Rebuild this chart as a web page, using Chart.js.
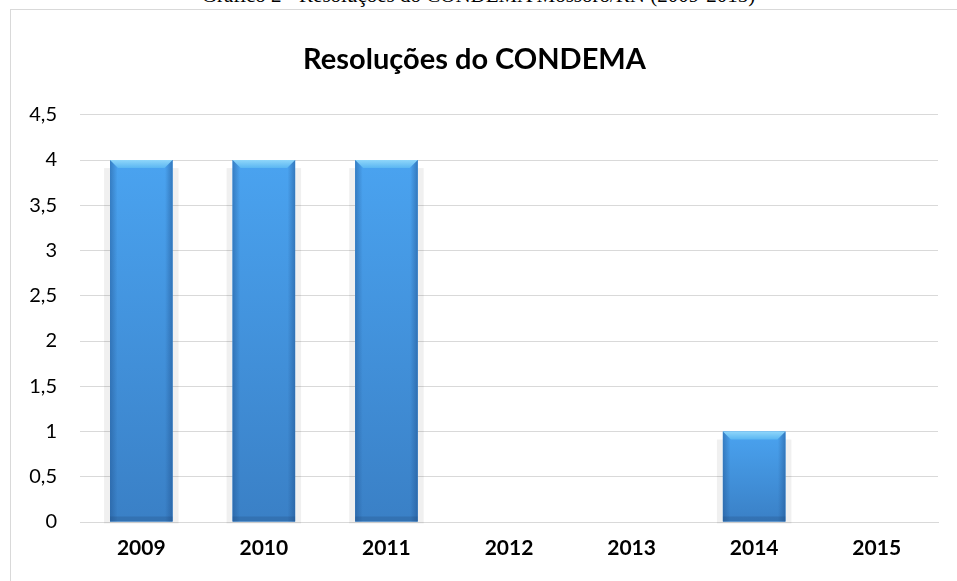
<!DOCTYPE html>
<html>
<head>
<meta charset="utf-8">
<script src="https://cdn.jsdelivr.net/npm/chart.js@4/dist/chart.umd.min.js"></script>
<style>
  html, body { margin: 0; padding: 0; background: #fff; overflow: hidden; }
  #wrap { position: relative; width: 957px; height: 581px; }
  #caption { position: absolute; left: 0; width: 957px; top: -17px; text-align: center;
    font-family: "Liberation Serif", serif; font-size: 21px; color: #000; white-space: nowrap; }
  #frame { position: absolute; left: 10px; top: 9px; width: 960px; height: 590px;
    border: 1px solid #d9d9d9; box-sizing: border-box; background: #fff; }
  canvas { position: absolute; left: 0; top: 0; }
</style>
</head>
<body>
<div id="wrap">
  <div id="caption">Gráfico 2 - Resoluções do CONDEMA Mossoró/RN (2009-2015)</div>
  <div id="frame"></div>
  <canvas id="c" width="957" height="581"></canvas>
</div>
<script>
const categories = ["2009", "2010", "2011", "2012", "2013", "2014", "2015"];
const values = [4, 4, 4, 0, 0, 1, 0];
const chartTitle = "Resoluções do CONDEMA";
const yMax = 4.5;
const yStep = 0.5;

const bevelPlugin = {
  id: 'bevel',
  beforeDatasetsDraw(chart) {
    const ctx = chart.ctx;
    const meta = chart.getDatasetMeta(0);
    ctx.save();
    meta.data.forEach((el) => {
      const p = el.getProps(['x', 'y', 'base', 'width'], true);
      const h = p.base - p.y;
      if (h < 1) return;
      const l = p.x - p.width / 2;
      ctx.fillStyle = 'rgba(0,0,0,0.06)';
      ctx.fillRect(l - 6, p.y + 8, p.width + 12, h - 6);
    });
    ctx.restore();
  },
  afterDatasetsDraw(chart) {
    const ctx = chart.ctx;
    const meta = chart.getDatasetMeta(0);
    ctx.save();
    meta.data.forEach((el) => {
      const p = el.getProps(['x', 'y', 'base', 'width'], true);
      const h = p.base - p.y;
      if (h < 1) return;
      const l = p.x - p.width / 2, r = p.x + p.width / 2;
      const g = ctx.createLinearGradient(0, p.y, 0, p.base);
      g.addColorStop(0, '#4aa3f0');
      g.addColorStop(1, '#3a80c6');
      ctx.fillStyle = g;
      ctx.fillRect(l, p.y, p.width, h);
      const hg = ctx.createLinearGradient(l, 0, r, 0);
      hg.addColorStop(0, 'rgba(30,80,140,0.45)');
      hg.addColorStop(0.12, 'rgba(30,80,140,0.0)');
      hg.addColorStop(0.88, 'rgba(30,80,140,0.0)');
      hg.addColorStop(1, 'rgba(30,80,140,0.5)');
      ctx.fillStyle = hg;
      ctx.fillRect(l, p.y, p.width, h);
      const b = 8;
      ctx.beginPath();
      ctx.moveTo(l, p.y);
      ctx.lineTo(r, p.y);
      ctx.lineTo(r - b, p.y + b);
      ctx.lineTo(l + b, p.y + b);
      ctx.closePath();
      const tg = ctx.createLinearGradient(0, p.y, 0, p.y + b);
      tg.addColorStop(0, '#8fd6fa');
      tg.addColorStop(1, '#5ab6f2');
      ctx.fillStyle = tg;
      ctx.fill();
      ctx.fillStyle = 'rgba(30,70,120,0.25)';
      ctx.fillRect(l, p.base - 5, p.width, 5);
    });
    ctx.restore();
  }
};

new Chart(document.getElementById('c'), {
  type: 'bar',
  data: {
    labels: categories,
    datasets: [{
      data: values,
      backgroundColor: '#4a9be6',
      borderWidth: 0,
      barPercentage: 0.51,
      categoryPercentage: 1.0
    }]
  },
  options: {
    responsive: false,
    animation: false,
    devicePixelRatio: 1,
    layout: { padding: { left: 11, right: 19, top: 14, bottom: 0 } },
    plugins: {
      legend: { display: false },
      tooltip: { enabled: false },
      title: {
        display: true,
        text: chartTitle,
        color: '#000',
        font: { family: 'Lato, "Open Sans", sans-serif', size: 29, weight: 'bold' },
        padding: { top: 28, bottom: 38 }
      }
    },
    scales: {
      x: {
        grid: { display: false, drawTicks: false },
        border: { display: true, color: '#d9d9d9', width: 1 },
        ticks: {
          color: '#000',
          font: { family: 'Lato, "Open Sans", sans-serif', size: 21, weight: 'bold' },
          padding: 14,
          maxRotation: 0
        },
        afterFit(scale) { scale.height = 59; }
      },
      y: {
        min: 0,
        max: yMax,
        grid: { color: '#d9d9d9', lineWidth: 1, drawTicks: false },
        border: { display: false },
        ticks: {
          stepSize: yStep,
          color: '#000',
          font: { family: 'Lato, "Open Sans", sans-serif', size: 20 },
          padding: 23,
          callback: (v) => String(v).replace('.', ',')
        },
        afterFit(scale) { scale.width = 69; }
      }
    }
  },
  plugins: [bevelPlugin]
});
</script>
</body>
</html>
